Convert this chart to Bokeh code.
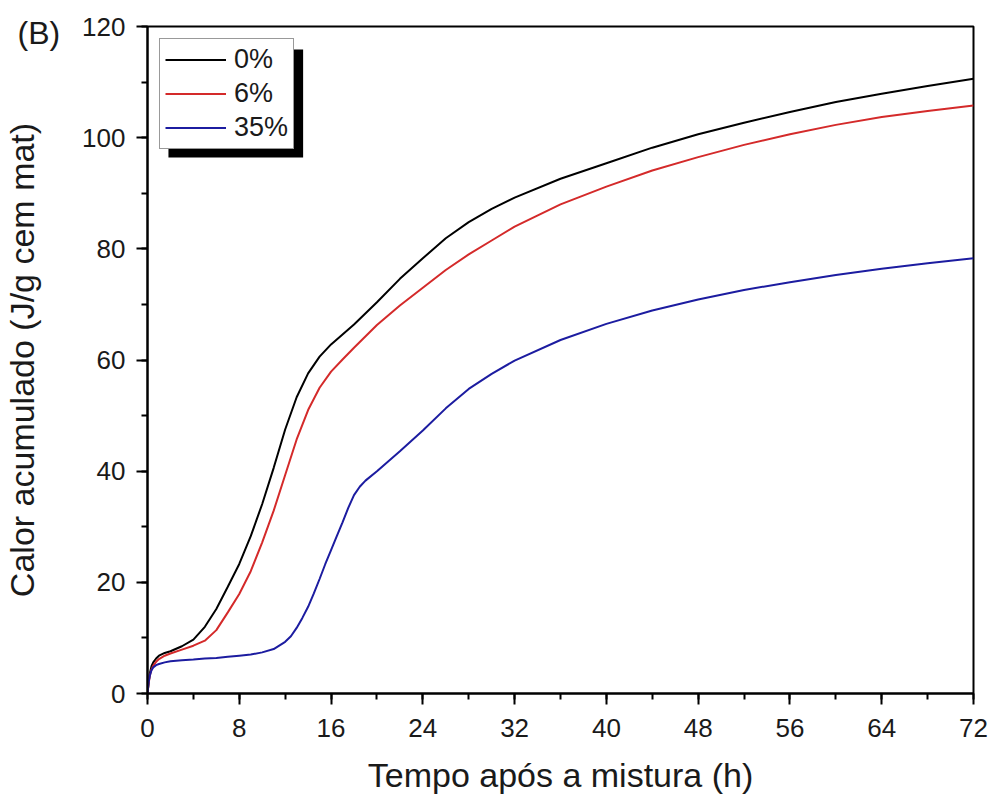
from bokeh.plotting import figure
from bokeh.models import (Range1d, SingleIntervalTicker, Legend, LegendItem,
                          BoxAnnotation, Title)
from bokeh.embed import file_html
from bokeh.resources import INLINE

# ---------------- data ----------------
t_0 = [0, 0.1, 0.2, 0.35, 0.5, 0.75, 1, 1.5, 2, 3, 4, 5, 6, 7, 8, 9, 10, 11,
       12, 13, 14, 15, 16, 17, 18, 20, 22, 24, 26, 28, 30, 32, 36, 40, 44, 48,
       52, 56, 60, 64, 68, 72]
q_0 = [0, 2.0, 3.6, 4.9, 5.6, 6.3, 6.8, 7.3, 7.6, 8.5, 9.7, 12.0, 15.2, 19.2,
       23.3, 28.3, 34.1, 40.6, 47.5, 53.3, 57.6, 60.6, 62.8, 64.6, 66.4, 70.4,
       74.6, 78.3, 81.9, 84.8, 87.2, 89.2, 92.6, 95.4, 98.2, 100.6, 102.7,
       104.6, 106.4, 107.9, 109.3, 110.6]

t_6 = [0, 0.1, 0.2, 0.35, 0.5, 0.75, 1, 1.5, 2, 3, 4, 5, 6, 7, 8, 9, 10, 11,
       12, 13, 14, 15, 16, 17, 18, 20, 22, 24, 26, 28, 30, 32, 36, 40, 44, 48,
       52, 56, 60, 64, 68, 72]
q_6 = [0, 1.8, 3.2, 4.3, 5.0, 5.7, 6.2, 6.8, 7.2, 7.9, 8.6, 9.5, 11.4, 14.6,
       17.9, 22.0, 27.2, 32.9, 39.3, 45.7, 51.0, 55.0, 57.9, 60.1, 62.2, 66.3,
       69.8, 73.0, 76.2, 79.0, 81.5, 84.0, 88.0, 91.2, 94.1, 96.5, 98.7, 100.6,
       102.3, 103.7, 104.8, 105.8]

t_35 = [0, 0.05, 0.1, 0.2, 0.35, 0.5, 0.75, 1, 1.5, 2, 3, 4, 5, 6, 7, 8, 9,
        10, 11, 12, 12.5, 13, 13.5, 14, 14.5, 15, 15.5, 16, 16.5, 17, 17.5, 18,
        18.5, 19, 20, 21, 22, 24, 26, 28, 30, 32, 36, 40, 44, 48, 52, 56, 60,
        64, 68, 72]
q_35 = [0, 1.0, 2.0, 3.2, 4.2, 4.7, 5.1, 5.3, 5.6, 5.8, 6.0, 6.1, 6.3, 6.4,
        6.6, 6.8, 7.0, 7.4, 8.0, 9.3, 10.3, 11.8, 13.6, 15.6, 18.0, 20.6, 23.3,
        25.8, 28.3, 30.8, 33.4, 35.7, 37.2, 38.3, 40.0, 41.8, 43.6, 47.3, 51.3,
        54.8, 57.5, 59.9, 63.6, 66.5, 68.9, 70.9, 72.6, 74.0, 75.3, 76.4, 77.4,
        78.3]

series_labels = ["0%", "6%", "35%"]
series_colors = ["#000000", "#d42a2a", "#1c1ca0"]

x_label = "Tempo após a mistura (h)"
y_label = "Calor acumulado (J/g cem mat)"
panel_tag = "(B)"

# ---------------- layout ----------------
W, H = 992, 796
BL, BR, BT, BB = 145, 19, 26, 103
FRAME_W = W - BL - BR
FRAME_H = H - BT - BB
X0, X1, Y0, Y1 = 0, 72, 0, 120
pxx = FRAME_W / (X1 - X0)
pxy = FRAME_H / (Y1 - Y0)
FONT = "Liberation Sans"
TXT = "#1a1a1a"

p = figure(width=W, height=H, output_backend="svg", toolbar_location=None,
           x_range=Range1d(X0, X1), y_range=Range1d(Y0, Y1),
           min_border_left=BL, min_border_right=BR,
           min_border_top=BT, min_border_bottom=BB)
p.grid.visible = False
p.outline_line_color = "black"
p.outline_line_width = 2
p.background_fill_color = "white"
p.border_fill_color = "white"

p.xaxis.ticker = SingleIntervalTicker(interval=8, num_minor_ticks=2)
p.yaxis.ticker = SingleIntervalTicker(interval=20, num_minor_ticks=2)
for ax in (p.xaxis[0], p.yaxis[0]):
    ax.axis_line_width = 2
    ax.major_tick_line_width = 2
    ax.minor_tick_line_width = 2
    ax.major_tick_in = 0
    ax.major_tick_out = 11
    ax.minor_tick_in = 0
    ax.minor_tick_out = 6
    ax.major_label_text_font = FONT
    ax.major_label_text_font_size = "26px"
    ax.major_label_text_color = TXT
    ax.axis_label_text_font = FONT
    ax.axis_label_text_font_size = "34px"
    ax.axis_label_text_font_style = "normal"
    ax.axis_label_text_color = TXT
p.xaxis.major_label_standoff = 14
p.yaxis.major_label_standoff = 11

p.xaxis.axis_label = x_label
p.xaxis.axis_label_standoff = 16
p.yaxis.axis_label = y_label
p.yaxis.axis_label_standoff = 38

# panel tag in the top-left corner
p.add_layout(Title(text=panel_tag, align="left", offset=-130, standoff=-48,
                   text_font=FONT, text_font_size="32px",
                   text_font_style="normal", text_color=TXT), "above")

# legend shadow
sh_l, sh_r, sh_t, sh_b = 21, 156, 23, 131  # px from frame top-left
p.add_layout(BoxAnnotation(left=X0 + sh_l / pxx, right=X0 + sh_r / pxx,
                           top=Y1 - sh_t / pxy, bottom=Y1 - sh_b / pxy,
                           fill_color="black", fill_alpha=1.0, line_color=None,
                           level="underlay"))

renderers = []
for t, q, c in zip([t_0, t_6, t_35], [q_0, q_6, q_35], series_colors):
    renderers.append(p.line(t, q, line_color=c, line_width=2))

legend = Legend(items=[LegendItem(label=l, renderers=[r])
                       for l, r in zip(series_labels, renderers)],
                location="top_left", margin=12, padding=5, spacing=3,
                glyph_width=61, glyph_height=31, label_height=31,
                label_standoff=8, label_text_font=FONT,
                label_text_font_size="27px", label_text_color=TXT,
                border_line_color="#333333", border_line_width=1,
                background_fill_color="white", background_fill_alpha=1.0)
p.add_layout(legend)

open("out.html", "w").write(file_html(p, INLINE))
